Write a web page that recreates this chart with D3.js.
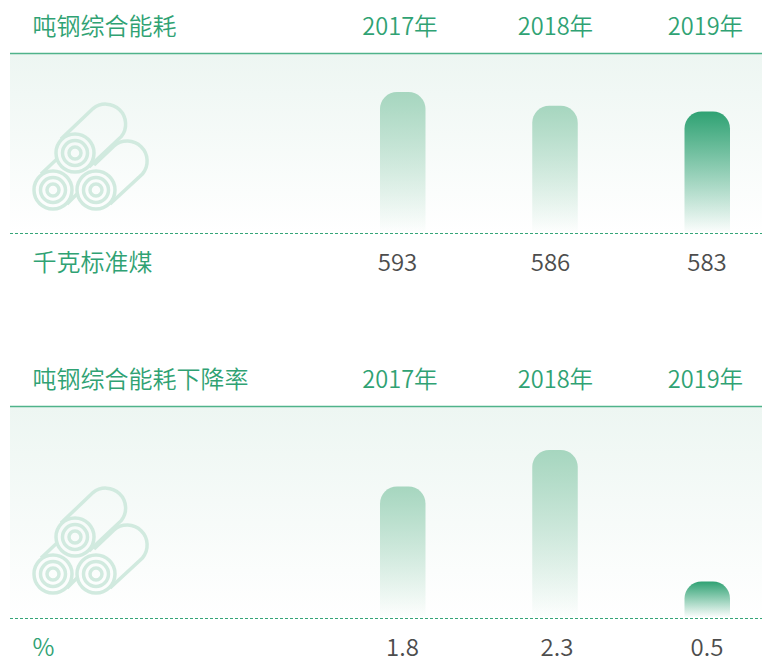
<!DOCTYPE html>
<html><head><meta charset="utf-8">
<script src="https://cdnjs.cloudflare.com/ajax/libs/d3/7.8.5/d3.min.js"></script>
<style>html,body{margin:0;padding:0;background:#fff}svg{display:block}
text{font-family:"Noto Sans CJK SC","Noto Sans",sans-serif;font-size:24px;font-weight:350}
.h{font-size:23.6px}</style>
</head><body><svg id="c" width="762" height="658"></svg>
<script>
const years = ["2017年","2018年","2019年"];
const titleA = "吨钢综合能耗";
const unitA = "千克标准煤";
const valuesA = [593,586,583];
const titleB = "吨钢综合能耗下降率";
const unitB = "%";
const valuesB = [1.8,2.3,0.5];
const labelsB = ["1.8","2.3","0.5"];

const GREEN = "#2fa273", TEXT = "#4d4d4d", ICON = "#d1eadf";
const svg = d3.select("#c");
const defs = svg.append("defs");
function grad(id, stops){
  const g = defs.append("linearGradient").attr("id",id).attr("x1",0).attr("x2",0).attr("y1",0).attr("y2",1);
  stops.forEach(s=>g.append("stop").attr("offset",s[0]).attr("stop-color",s[1]).attr("stop-opacity",s[2]));
}
grad("bg",[[0,"#edf6f2",1],[1,"#ffffff",1]]);
grad("light",[[0,"#a6d6bf",1],[1,"#a6d6bf",0.02]]);
grad("dark",[[0,"#2fa273",1],[1,"#2fa273",0.02]]);

const barX = d3.scalePoint().domain(years).range([380,684.5]);
const BW = 45.5;
const headX = [400,555.5,705.5], valX = [[397.5,550.5,707],[402.5,557,707]];

function panel(o){
  const g = svg.append("g");
  const y = d3.scaleLinear().domain(o.domain).range([o.base,o.base-o.span]);
  g.append("rect").attr("x",10).attr("y",o.top).attr("width",752).attr("height",o.base-o.top).attr("fill","url(#bg)");
  g.append("line").attr("x1",10).attr("x2",762).attr("y1",o.top-0.5).attr("y2",o.top-0.5).attr("stroke","#4fb38a").attr("stroke-width",1.3);
  g.append("line").attr("x1",10).attr("x2",762).attr("y1",o.base+.5).attr("y2",o.base+.5).attr("stroke","#35a578").attr("stroke-width",1).attr("stroke-dasharray","3 2");
  g.append("text").attr("x",32.5).attr("y",o.titleY).attr("fill",GREEN).text(o.title);
  g.selectAll(".h").data(years).join("text").attr("class","h").attr("x",(d,i)=>headX[i]).attr("y",o.titleY).attr("text-anchor","middle").attr("fill",GREEN).text(d=>d);
  g.append("text").attr("x",32.5).attr("y",o.valY).attr("fill",GREEN).text(o.unit);
  g.selectAll(".v").data(o.values).join("text").attr("class","v").attr("x",(d,i)=>o.vx[i]).attr("y",o.valY).attr("text-anchor","middle").attr("fill",TEXT).text((d,i)=>o.labels[i]);
  g.selectAll(".b").data(o.values).join("path").attr("class","b")
    .attr("fill",(d,i)=>i===o.hi?"url(#dark)":"url(#light)")
    .attr("d",(d,i)=>{
      const l=barX(years[i]), r=l+BW, t=y(d), b=o.base-1, R=17;
      return `M${l},${b}V${t+R}A${R},${R} 0 0 1 ${l+R},${t}H${r-R}A${R},${R} 0 0 1 ${r},${t+R}V${b}Z`;
    });
  // steel coil icon
  const ic = g.append("g").attr("transform",`translate(0,${o.iconY})`).attr("fill","none").attr("stroke",ICON).attr("stroke-width",3.5);
  ic.append("path").attr("d","M61,139 L93,108.6 A20,20 0 0 1 121.4,136.4 L89,167");
  ic.append("path").attr("d","M94,165 L114,146 A20,20 0 0 1 142.4,174 L110,204");
  ic.append("path").attr("d","M41,174 L57,159");
  ic.append("path").attr("d","M67,204 L78,193");
  [[75,153],[53,190],[96,190]].forEach(c=>[19,12.5,6].forEach(r=>
    ic.append("circle").attr("cx",c[0]).attr("cy",c[1]).attr("r",r)));
}
panel({title:titleA,unit:unitA,values:valuesA,labels:valuesA.map(String),vx:valX[0],domain:[520.7,593],span:141,top:54,base:233,titleY:35,valY:271,hi:2,iconY:0});
panel({title:titleB,unit:unitB,values:valuesB,labels:labelsB,vx:valX[1],domain:[0,2.3],span:168,top:407,base:618,titleY:388,valY:656,hi:2,iconY:384});
</script></body></html>
